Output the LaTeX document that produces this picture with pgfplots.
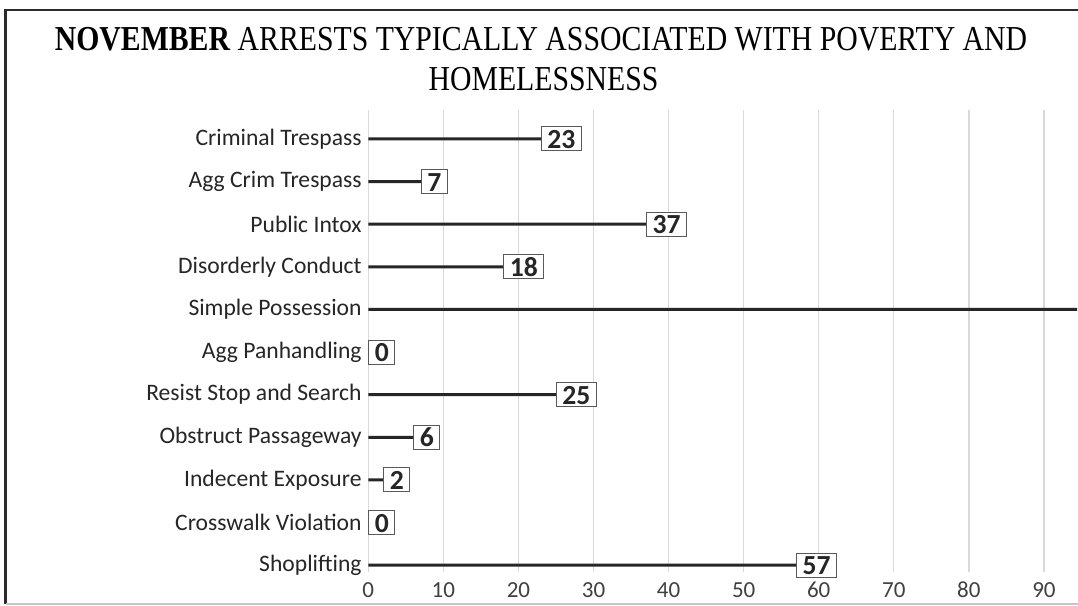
\documentclass[border=0pt]{standalone}
\usepackage{fontspec}
\setmainfont{Carlito}
\newfontfamily\titlefont[FakeStretch=0.85]{Liberation Serif}
\usepackage{pgfplots}
\usepackage{pgfplotstable}
\pgfplotsset{compat=1.18}
\definecolor{barc}{HTML}{262626}
\definecolor{gridc}{HTML}{D9D9D9}
\definecolor{framec}{HTML}{2B2B2B}
\definecolor{txtc}{HTML}{262626}
\definecolor{tickc}{HTML}{404040}
\definecolor{boxc}{HTML}{595959}

% y index: 0 = Shoplifting (bottom) ... 10 = Criminal Trespass (top)
\pgfplotstableread{
y v
0 57
1 0
2 2
3 6
4 25
5 0
6 110
7 18
8 37
9 7
10 23
}\bars
\pgfplotstableread{
y v
0 57
1 0
2 2
3 6
4 25
5 0
7 18
8 37
9 7
10 23
}\labs

\begin{document}
\begin{tikzpicture}[x=1pt,y=1pt]
\useasboundingbox (0,0) rectangle (539,303);
\fill[white] (0,0) rectangle (539,303);
\begin{axis}[
  at={(178.5pt,17pt)}, anchor=south west,
  scale only axis, width=360pt, height=231pt,
  xmin=-1.5, xmax=94.4, ymin=-0.16, ymax=10.68,
  axis line style={draw=none},
  major tick length=0pt,
  xtick={0,10,...,90},
  ytick={0,...,10},
  yticklabels={Shoplifting, Crosswalk Violation, Indecent Exposure, Obstruct Passageway, Resist Stop and Search, Agg Panhandling, Simple Possession, Disorderly Conduct, Public Intox, Agg Crim Trespass, Criminal Trespass},
  xmajorgrids,
  grid style={gridc, line width=0.6pt},
  yticklabel style={font=\fontsize{11.8}{13}\selectfont, text=txtc, anchor=east, inner sep=0pt, xshift=2.5pt},
  xticklabel style={font=\fontsize{11.5}{13}\selectfont, text=tickc, anchor=north, inner sep=0pt, text height=7.5pt, text depth=0pt, yshift=-5pt},
  /pgf/number format/assume math mode=true,
]
\addplot[xbar, bar width=1.5pt, bar shift=0pt, fill=barc, draw=none] table[x=v,y=y]{\bars};
\addplot[draw=none, mark=none, point meta=x,
  nodes near coords={\pgfmathprintnumber{\pgfplotspointmeta}},
  every node near coord/.append style={anchor=west, draw=boxc, line width=0.5pt, fill=white,
    font=\bfseries\fontsize{13.8}{14}\selectfont, text=txtc,
    inner xsep=3pt, inner ysep=1.2pt, text height=9.6pt, text depth=0pt}
] table[x=v,y=y]{\labs};
\end{axis}
\node[anchor=base, font=\titlefont\fontsize{17.5}{17.5}\selectfont, text=black] at (270.5,277.5) {\textbf{NOVEMBER} ARRESTS TYPICALLY ASSOCIATED WITH POVERTY AND};
\node[anchor=base, font=\titlefont\fontsize{17.5}{17.5}\selectfont, text=black] at (271.75,257.5) {HOMELESSNESS};
\draw[framec, line width=1.25pt] (2.75,1) -- (2.75,298) -- (539.5,298);
\draw[gray!45, line width=0.6pt] (2.75,1) -- (539,1);
\end{tikzpicture}
\end{document}
